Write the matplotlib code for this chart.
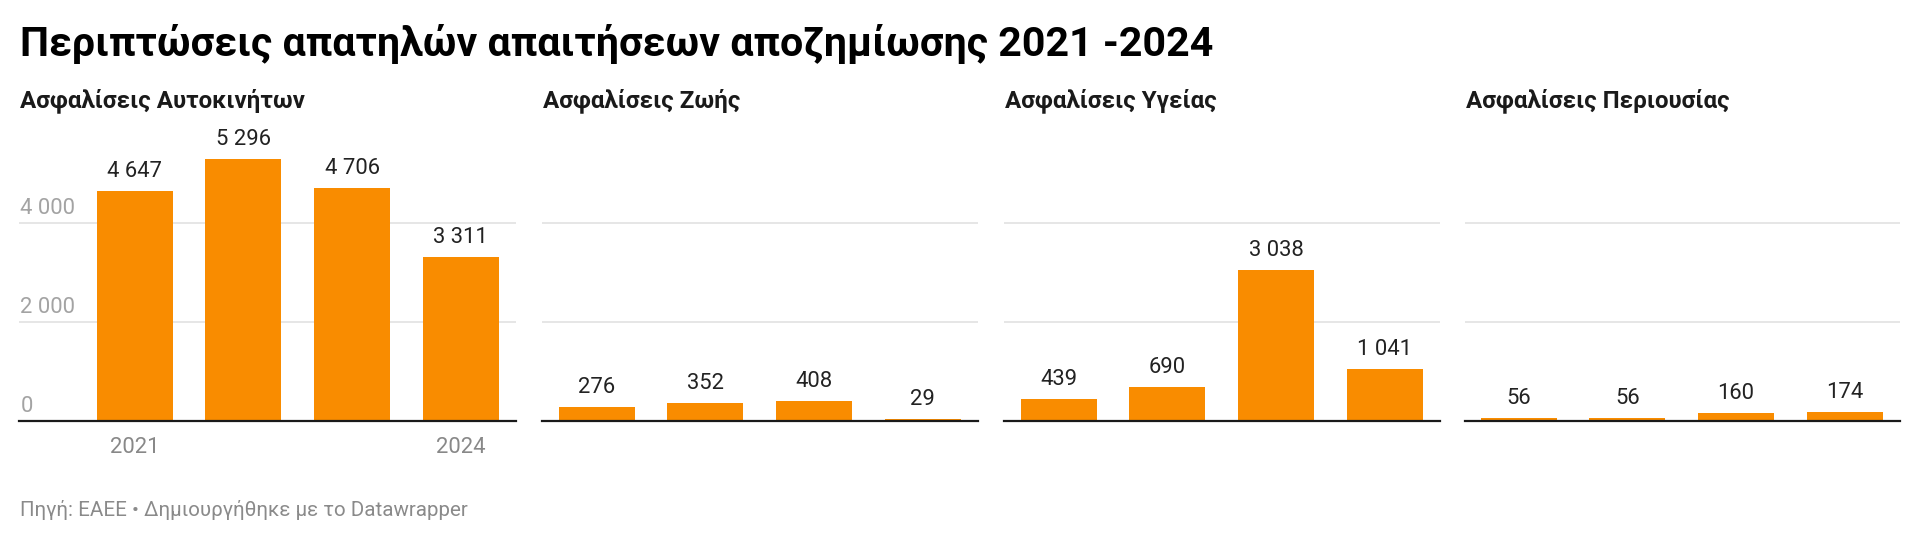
import matplotlib.pyplot as plt

plt.rcParams["font.family"] = ["Roboto", "DejaVu Sans"]

# Data
years = ["2021", "2022", "2023", "2024"]
panel_titles = [
    "Ασφαλίσεις Αυτοκινήτων",
    "Ασφαλίσεις Ζωής",
    "Ασφαλίσεις Υγείας",
    "Ασφαλίσεις Περιουσίας",
]
car = [4647, 5296, 4706, 3311]
life = [276, 352, 408, 29]
health = [439, 690, 3038, 1041]
property_ = [56, 56, 160, 174]
series = [car, life, health, property_]
y_ticks = [0, 2000, 4000]

title = "Περιπτώσεις απατηλών απαιτήσεων αποζημίωσης 2021 -2024"
footer = "Πηγή: ΕΑΕΕ • Δημιουργήθηκε με το Datawrapper"

bar_color = "#f98c00"
W, H = 1920, 540


def fmt(v):
    return f"{v:,}".replace(",", " ")


fig = plt.figure(figsize=(W / 100, H / 100), dpi=100)

# panel pixel extents (left, right)
panels = [(19, 516), (542, 978), (1004, 1440), (1465, 1900)]
base_y = 420.7
px_per_unit = 0.0495
ymax = 5500
step_px = 108.6
xmax = 3.51

for i, ((l, r), vals, name) in enumerate(zip(panels, series, panel_titles)):
    h = ymax * px_per_unit
    ax = fig.add_axes([l / W, 1 - base_y / H, (r - l) / W, h / H])
    x = range(len(vals))
    ax.bar(x, vals, width=0.7, color=bar_color, zorder=2)
    ax.set_xlim(xmax - (r - l) / step_px, xmax)
    ax.set_ylim(0, ymax)
    for t in y_ticks[1:]:
        ax.axhline(t, color="#e2e2e2", lw=1.2, zorder=1)
    ax.axhline(0, color="#1a1a1a", lw=1.6, zorder=3, clip_on=False)
    for s in ax.spines.values():
        s.set_visible(False)
    ax.set_xticks([])
    ax.set_yticks([])

    for xi, v in zip(x, vals):
        ax.annotate(fmt(v), (xi, v), xytext=(0, 10), textcoords="offset points",
                    ha="center", va="baseline", fontsize=15.8, color="#222222")

    if i == 0:
        for t in y_ticks:
            ax.annotate(fmt(t), (ax.get_xlim()[0], t), xytext=(1, 6.5),
                        textcoords="offset points", ha="left", va="baseline",
                        fontsize=15.8, color="#a3a3a3")
        for xi in (0, 3):
            ax.annotate(years[xi], (xi, 0), xytext=(0, -23),
                        textcoords="offset points", ha="center", va="baseline",
                        fontsize=15.8, color="#888888", annotation_clip=False)

    fig.text((l + 1) / W, 1 - 107.3 / H, name, ha="left", va="baseline",
             fontsize=17.4, fontweight="bold", color="#1a1a1a")

fig.text(20 / W, 1 - 55.7 / H, title, ha="left", va="baseline",
         fontsize=29.6, fontweight="bold", color="#000000")
fig.text(20 / W, 1 - 515.5 / H, footer, ha="left", va="baseline",
         fontsize=14.8, color="#8a8a8a")

plt.savefig("out.png", dpi=100)
